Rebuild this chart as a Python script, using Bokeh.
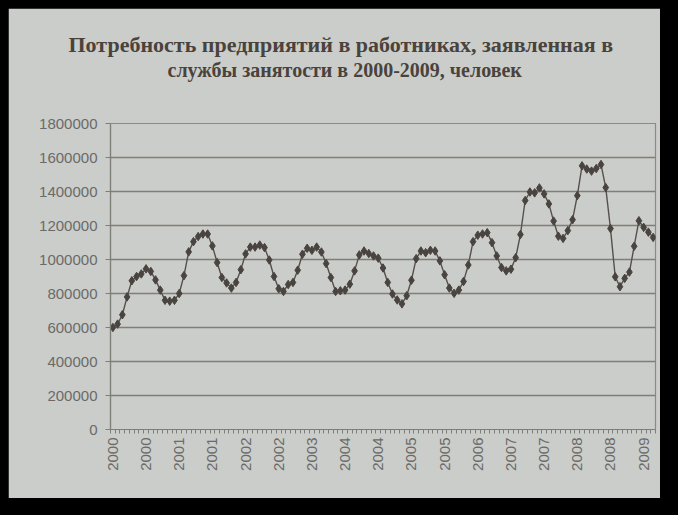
import math
from bokeh.plotting import figure
from bokeh.models import Range1d, FixedTicker, Title, BasicTickFormatter
from bokeh.embed import file_html
from bokeh.resources import INLINE

title_line1 = "Потребность предприятий в работниках, заявленная в"
title_line2 = "службы занятости в 2000-2009, человек"

year_labels = ["2000", "2000", "2001", "2001", "2002", "2002", "2003", "2004", "2004",
               "2005", "2005", "2006", "2007", "2007", "2008", "2008", "2009"]
label_step = 7
y_ticks = [0, 200000, 400000, 600000, 800000, 1000000, 1200000, 1400000, 1600000, 1800000]

demand_2000 = [600000, 620000, 675000, 780000, 875000, 900000, 915000, 945000, 930000, 880000, 820000, 760000]
demand_2001 = [755000, 760000, 800000, 905000, 1045000, 1105000, 1135000, 1150000, 1150000, 1080000, 982000, 894000]
demand_2002 = [862000, 832000, 865000, 940000, 1033000, 1073000, 1073000, 1085000, 1070000, 997000, 900000, 828000]
demand_2003 = [812000, 853000, 865000, 937000, 1031000, 1066000, 1054000, 1073000, 1044000, 976000, 894000, 812000]
demand_2004 = [816000, 820000, 855000, 933000, 1027000, 1050000, 1035000, 1021000, 1008000, 950000, 865000, 797000]
demand_2005 = [762000, 739000, 787000, 878000, 1005000, 1050000, 1040000, 1054000, 1050000, 992000, 910000, 832000]
demand_2006 = [801000, 820000, 871000, 968000, 1105000, 1143000, 1150000, 1158000, 1099000, 1021000, 953000, 933000]
demand_2007 = [943000, 1011000, 1147000, 1347000, 1397000, 1392000, 1421000, 1386000, 1327000, 1226000, 1137000, 1124000]
demand_2008 = [1170000, 1234000, 1376000, 1551000, 1532000, 1520000, 1535000, 1559000, 1423000, 1182000, 898000, 840000]
demand_2009 = [889000, 926000, 1078000, 1228000, 1189000, 1161000, 1130000]

values = (demand_2000 + demand_2001 + demand_2002 + demand_2003 + demand_2004 +
          demand_2005 + demand_2006 + demand_2007 + demand_2008 + demand_2009)
n = len(values)
xs = list(range(n))

slide_bg = "#cbcdca"
ink = "#4a4440"
grid_c = "#7f7f7a"
label_c = "#6a6a68"
title_c = "#4a433c"

p = figure(width=652, height=490, output_backend="svg", toolbar_location=None, title=None,
           x_range=Range1d(-0.5, n - 0.5), y_range=Range1d(0, 1800000),
           min_border_left=102, min_border_right=5, min_border_top=115, min_border_bottom=69)
p.background_fill_color = slide_bg
p.border_fill_color = slide_bg
p.outline_line_color = "#8a8a86"
p.outline_line_width = 1.2

p.line(xs, values, line_color="#55504b", line_width=1.4)
p.scatter(xs, values, marker="diamond", size=8.5, fill_color=ink, line_color=ink)

# y axis
p.yaxis.ticker = FixedTicker(ticks=y_ticks)
p.yaxis.formatter = BasicTickFormatter(use_scientific=False)
p.yaxis.major_label_text_font = "Liberation Sans"
p.yaxis.major_label_text_font_size = "15px"
p.yaxis.major_label_text_color = label_c
p.yaxis.axis_line_color = grid_c
p.yaxis.axis_line_width = 1.2
p.yaxis.major_tick_line_color = grid_c
p.yaxis.major_tick_out = 5
p.yaxis.major_tick_in = 0
p.yaxis.minor_tick_line_color = None
p.yaxis.major_label_standoff = 8

# x axis
label_pos = [i * label_step for i in range(len(year_labels))]
boundaries = [i - 0.5 for i in range(n + 1)]
p.xaxis.ticker = FixedTicker(ticks=label_pos, minor_ticks=boundaries)
p.xaxis.major_label_overrides = {pos: lab for pos, lab in zip(label_pos, year_labels)}
p.xaxis.major_label_orientation = math.pi / 2
p.xaxis.major_label_text_font = "Liberation Sans"
p.xaxis.major_label_text_font_size = "15px"
p.xaxis.major_label_text_color = label_c
p.xaxis.axis_line_color = grid_c
p.xaxis.axis_line_width = 1.2
p.xaxis.major_tick_line_color = None
p.xaxis.major_tick_out = 4
p.xaxis.major_tick_in = 0
p.xaxis.minor_tick_line_color = grid_c
p.xaxis.minor_tick_out = 4
p.xaxis.minor_tick_in = 0
p.xaxis.major_label_standoff = 4

p.xgrid.grid_line_color = None
p.ygrid.ticker = FixedTicker(ticks=y_ticks)
p.ygrid.grid_line_color = grid_c
p.ygrid.grid_line_width = 1.3

# spacer between titles and plot area, then the two title lines (added outward)
p.add_layout(Title(text=" ", text_font_size="36px", standoff=0), "above")
for txt, off, fs in [(title_line2, 57, "20px"), (title_line1, -42, "22px")]:
    p.add_layout(Title(text=txt, align="left", offset=off, standoff=0,
                       text_font="Liberation Serif", text_font_style="bold",
                       text_font_size=fs, text_color=title_c), "above")

html = file_html(p, INLINE)
html = html.replace("<body>", '<body style="margin:8px;background-color:#000000;">')
open("out.html", "w").write(html)
